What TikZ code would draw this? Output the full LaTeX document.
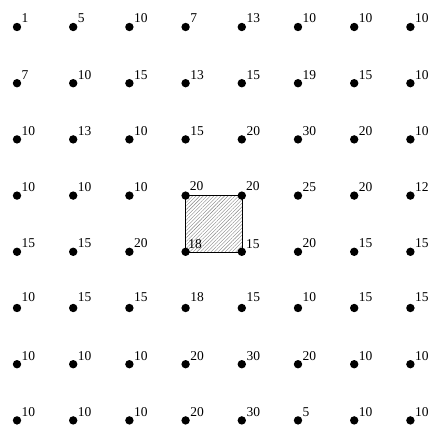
\documentclass[tikz,border=0pt]{standalone}
\usepackage{fontspec}
\setmainfont{Liberation Serif}
\usetikzlibrary{patterns.meta}
\begin{document}
\begin{tikzpicture}[x=1pt,y=1pt,
  dotnode/.style={circle,fill=black,inner sep=0pt,minimum size=8.4pt},
  numlabel/.style={inner sep=0pt,anchor=base west,font=\fontsize{13.5}{14}\selectfont},
  hatchbox/.style={draw=black,line width=0.6pt,pattern={Lines[angle=45,distance=2.5pt,line width=0.4pt]},pattern color=gray}]
\useasboundingbox (0,0) rectangle (431,424);
\foreach \r in {0,...,7}{
  \foreach \c in {0,...,7}{
    \coordinate (p-\r-\c) at ({17+56.2*\c},{424-27-56.2*\r});
  }
}
\draw[hatchbox] (p-3-3) rectangle (p-4-4);
\foreach \r/\vals/\dy in {
  0/{1,5,10,7,13,10,10,10}/4,
  1/{7,10,15,13,15,19,15,10}/4,
  2/{10,13,10,15,20,30,20,10}/4,
  3/{10,10,10,20,20,25,20,12}/4,
  4/{15,15,20,18,15,20,15,15}/4,
  5/{10,15,15,18,15,10,15,15}/6.5,
  6/{10,10,10,20,30,20,10,10}/4,
  7/{10,10,10,20,30,5,10,10}/4}{
  \foreach \v [count=\k from 0] in \vals{
    \node[dotnode] (d-\r-\k) at (p-\r-\k) {};
    \pgfmathsetmacro{\sq}{((\r==3)||(\r==4))&&((\k==3)||(\k==4))}
    \ifdim\sq pt>0.5pt
      \pgfmathsetmacro{\lx}{(\r==4)&&(\k==3) ? 2.5 : 4}
      \pgfmathsetmacro{\ly}{(\r==3) ? 5 : 3}
    \else
      \def\lx{4.5}\let\ly\dy
    \fi
    \node[numlabel] (l-\r-\k) at ([xshift=\lx pt,yshift=\ly pt]d-\r-\k.center) {\v};
  }
}
\end{tikzpicture}
\end{document}
